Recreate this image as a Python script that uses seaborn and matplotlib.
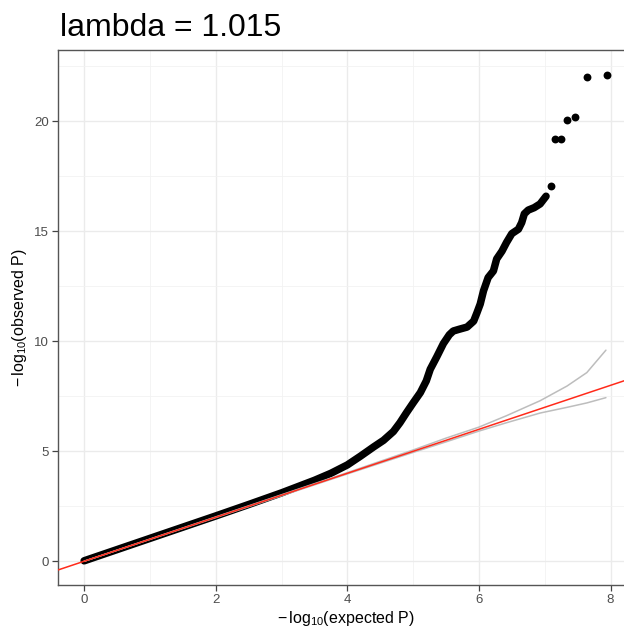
import numpy as np
import pandas as pd
import matplotlib
matplotlib.use("Agg")
import matplotlib.pyplot as plt
import seaborn as sns

# ---- data ----
title_text = "lambda = 1.015"

# observed vs expected -log10 P (dense body of the QQ curve)
body_x = [0.0, 0.5, 1.0, 1.5, 2.0, 2.5, 3.0, 3.5, 3.75, 4.0, 4.2, 4.4, 4.55,
          4.7, 4.8, 4.9, 5.0, 5.11, 5.2, 5.26, 5.36, 5.46, 5.55, 5.61, 5.7,
          5.82, 5.92, 5.97, 6.02, 6.07, 6.14, 6.22, 6.27, 6.35, 6.42, 6.5,
          6.6, 6.65, 6.69, 6.75, 6.84, 6.93, 7.02]
body_y = [0.02, 0.53, 1.04, 1.55, 2.06, 2.58, 3.11, 3.68, 4.0, 4.38, 4.78,
          5.2, 5.5, 5.9, 6.3, 6.76, 7.2, 7.67, 8.2, 8.73, 9.3, 9.9, 10.3,
          10.47, 10.55, 10.65, 10.92, 11.3, 11.7, 12.3, 12.9, 13.2, 13.75,
          14.1, 14.5, 14.9, 15.1, 15.4, 15.8, 15.97, 16.08, 16.25, 16.6]
# sparse top hits
tail_x = [7.09, 7.16, 7.24, 7.34, 7.46, 7.64, 7.94]
tail_y = [17.05, 19.2, 19.2, 20.05, 20.2, 22.0, 22.1]

# confidence band
ci_x = [0.0, 4.0, 5.0, 5.5, 6.0, 6.42, 6.93, 7.34, 7.64, 7.93]
ci_upper = [0.0, 4.03, 5.06, 5.6, 6.1, 6.62, 7.3, 7.97, 8.58, 9.6]
ci_lower = [0.0, 3.97, 4.95, 5.43, 5.92, 6.3, 6.74, 7.0, 7.2, 7.44]

x_ticks = [0, 2, 4, 6, 8]
y_ticks = [0, 5, 10, 15, 20]

# ---- style ----
sns.set_theme(style="white")
plt.rcParams["font.family"] = ["Liberation Sans", "DejaVu Sans"]
plt.rcParams["mathtext.fontset"] = "custom"
plt.rcParams["mathtext.rm"] = "Liberation Sans"
plt.rcParams["mathtext.it"] = "Liberation Sans:italic"
plt.rcParams["mathtext.default"] = "regular"

W, H = 624, 629
fig = plt.figure(figsize=(W / 100, H / 100), dpi=100)
fig.patch.set_facecolor("white")

# panel: left px 58, bottom px 585, top px 50; extends beyond right edge
xlim = (-0.397, 8.34)
ylim = (-1.08, 23.25)
left_px, top_px, bot_px = 58, 50, 585
px_per_x = 65.8
width_px = (xlim[1] - xlim[0]) * px_per_x
ax = fig.add_axes([left_px / W, (H - bot_px) / H, width_px / W, (bot_px - top_px) / H])
ax.set_facecolor("white")
ax.set_xlim(*xlim)
ax.set_ylim(*ylim)

# grid (theme_bw-like)
ax.set_xticks(x_ticks)
ax.set_yticks(y_ticks)
ax.set_xticks([1, 3, 5, 7], minor=True)
ax.set_yticks([2.5, 7.5, 12.5, 17.5, 22.5], minor=True)
ax.grid(True, which="major", color="#EBEBEB", linewidth=1.0)
ax.grid(True, which="minor", color="#F2F2F2", linewidth=0.6)
ax.set_axisbelow(True)

df_body = pd.DataFrame({"x": body_x, "y": body_y})
df_tail = pd.DataFrame({"x": tail_x, "y": tail_y})
df_ci = pd.DataFrame({"x": ci_x, "upper": ci_upper, "lower": ci_lower})

# points: dense body as a thick run of overlapping points, sparse tail as dots
sns.lineplot(data=df_body, x="x", y="y", ax=ax, color="black", linewidth=5.4,
             solid_capstyle="round", solid_joinstyle="round", sort=False, zorder=3)
sns.scatterplot(data=df_tail, x="x", y="y", ax=ax, color="black", s=32,
                linewidth=0, zorder=3)

# CI lines
sns.lineplot(data=df_ci, x="x", y="upper", ax=ax, color="#BDBDBD", linewidth=1.1, zorder=4)
sns.lineplot(data=df_ci, x="x", y="lower", ax=ax, color="#BDBDBD", linewidth=1.1, zorder=4)

# identity line
ax.axline((0, 0), slope=1, color="#FF2A1A", linewidth=1.1, zorder=5)

# spines / ticks
for s in ax.spines.values():
    s.set_color("#555555")
    s.set_linewidth(1.0)
ax.tick_params(axis="both", which="major", direction="out", length=4, width=0.9,
               color="#444444", labelcolor="#4D4D4D", labelsize=9.5, pad=2.5,
               bottom=True, left=True)
ax.tick_params(axis="both", which="minor", length=0)

ax.set_xlabel(r"$\mathregular{-\,log_{10}(expected\ P)}$", fontsize=11.5, color="black", labelpad=2)
ax.set_ylabel(r"$\mathregular{-\,log_{10}(observed\ P)}$", fontsize=11.5, color="black", labelpad=4)

fig.text(60 / W, 1 - 36 / H, title_text, ha="left", va="baseline", fontsize=23, color="black")

fig.savefig("out.png", dpi=100)
